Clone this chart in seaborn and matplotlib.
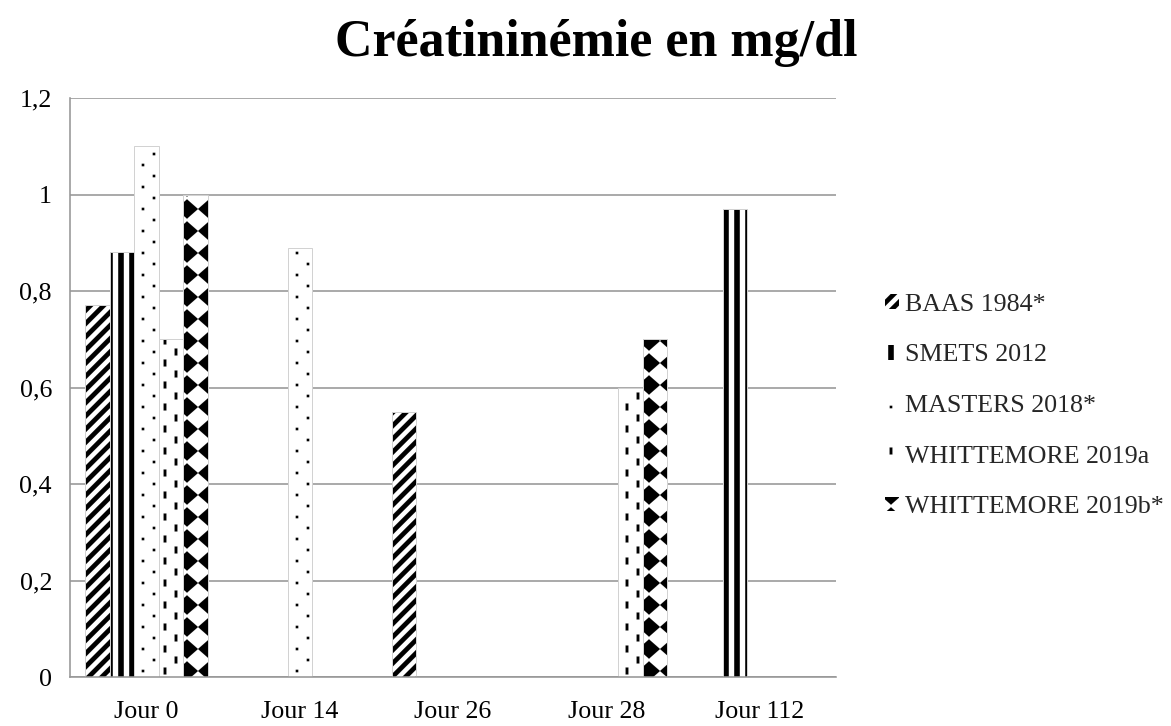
import numpy as np
import pandas as pd
import matplotlib
matplotlib.use("Agg")
import matplotlib.pyplot as plt
import matplotlib.hatch as mhatch
import matplotlib.patches as mpatches
from matplotlib.colors import to_rgba
from matplotlib.path import Path
import seaborn as sns

# ---------------- data ----------------
categories = ["Jour 0", "Jour 14", "Jour 26", "Jour 28", "Jour 112"]
series = ["BAAS 1984*", "SMETS 2012", "MASTERS 2018*", "WHITTEMORE 2019a", "WHITTEMORE 2019b*"]
baas = [0.77, None, 0.55, None, None]
smets = [0.88, None, None, None, 0.97]
masters = [1.10, 0.89, None, None, None]
whittemore_a = [0.70, None, None, 0.60, None]
whittemore_b = [1.00, None, None, 0.70, None]
y_ticks = [0, 0.2, 0.4, 0.6, 0.8, 1.0, 1.2]
y_tick_labels = ["0", "0,2", "0,4", "0,6", "0,8", "1", "1,2"]
title = "Créatininémie en mg/dl"

values = [baas, smets, masters, whittemore_a, whittemore_b]
rows = []
for s, vals in zip(series, values):
    for c, v in zip(categories, vals):
        if v is not None:
            rows.append({"jour": c, "serie": s, "valeur": v})
df = pd.DataFrame(rows)

# ---------------- custom fill patterns (hatch tiles) ----------------
def _rect(x0, y0, x1, y1):
    return [(x0, y0), (x1, y0), (x1, y1), (x0, y1)]


def _tile_shapes(ch):
    shapes = []
    if ch == "/":  # thick diagonal stripes
        n, d = 5, 0.05
        for k in range(-n - 1, n + 2):
            c = k / n
            shapes.append([(-0.2, -0.2 + c - d), (1.2, 1.2 + c - d),
                           (1.2, 1.2 + c + d), (-0.2, -0.2 + c + d)])
    elif ch == "|":  # thick vertical lines
        n, d = 6, 0.042
        for i in range(n + 1):
            x = i / n
            shapes.append(_rect(x - d, -0.1, x + d, 1.1))
    elif ch == ".":  # sparse staggered dots
        nr, nc, s = 6, 3, 0.019
        for r in range(nr + 1):
            y = r / nr
            shift = 0.5 / nc if r % 2 else 0.0
            for c in range(-1, nc + 1):
                x = c / nc + shift
                shapes.append(_rect(x - s, y - s, x + s, y + s))
    elif ch == "-":  # staggered vertical dashes
        ncol, w, L = 6, 0.021, 0.105
        for i in range(ncol + 1):
            x = i / ncol
            off = (1 / 6) if i % 2 else 0.0
            for j in range(-1, 4):
                y = j / 3 + off
                shapes.append(_rect(x - w, y - L / 2, x + w, y + L / 2))
    elif ch == "*":  # bow-tie / diamond triangles
        n = 3
        cw = 1 / n
        sh = 0.5 * cw
        for i in range(-2, n + 1):
            for j in range(-1, n + 1):
                x0, y0 = i * cw + sh, j * cw
                shapes.append([(x0, y0 + 0.06 * cw), (x0, y0 + 0.94 * cw),
                               (x0 + 0.5 * cw, y0 + 0.5 * cw)])
                shapes.append([(x0 + cw, y0 + 0.06 * cw), (x0 + cw, y0 + 0.94 * cw),
                               (x0 + 0.5 * cw, y0 + 0.5 * cw)])
    return shapes


class _TileHatch(mhatch.HatchPatternBase):
    def __init__(self, hatch, density):
        self.shapes = []
        for ch in dict.fromkeys(hatch):
            self.shapes.extend(_tile_shapes(ch))
        self.num_vertices = sum(len(s) + 1 for s in self.shapes)

    def set_vertices_and_codes(self, vertices, codes):
        i = 0
        for s in self.shapes:
            n = len(s)
            vertices[i:i + n] = s
            vertices[i + n] = s[0]
            codes[i] = Path.MOVETO
            codes[i + 1:i + n] = Path.LINETO
            codes[i + n] = Path.CLOSEPOLY
            i += n + 1


mhatch._hatch_types = [_TileHatch]
hatches = ["/", "|", ".", "-", "*"]

# ---------------- style ----------------
DPI = 66
PX = 72.0 / DPI  # points per pixel
sns.set_style("white")
plt.rcParams["font.family"] = ["Liberation Serif", "DejaVu Serif"]
plt.rcParams["hatch.linewidth"] = 0.1

fig = plt.figure(figsize=(1171 / DPI, 726 / DPI), dpi=DPI)
ax = fig.add_axes([70 / 1171, 1 - 677 / 726, (836 - 70) / 1171, (677 - 98) / 726])

sns.barplot(data=df, x="jour", y="valeur", hue="serie", order=categories,
            hue_order=series, palette={s: "white" for s in series},
            saturation=1, width=0.8, errorbar=None, legend=False, ax=ax)

for cont, h in zip(ax.containers, hatches):
    for bar in cont:
        bar.set_hatch(h)
        bar.set_edgecolor("#d2d2d2")
        bar.set_linewidth(1.0 * PX)
        if hasattr(bar, "set_hatchcolor"):
            bar.set_hatchcolor("black")
        else:
            bar._hatch_color = to_rgba("black")

grid_col = "#979797"
ax.set_axisbelow(True)
ax.yaxis.grid(True, color=grid_col, linewidth=1.6 * PX)
ax.xaxis.grid(False)
for side in ["top", "right"]:
    ax.spines[side].set_visible(False)
for side in ["left", "bottom"]:
    ax.spines[side].set_color(grid_col)
    ax.spines[side].set_linewidth(1.6 * PX)

ax.set_ylim(0, 1.2)
ax.set_yticks(y_ticks, labels=y_tick_labels)
ax.set_xlabel("")
ax.set_ylabel("")
fs = 26 * PX
ax.tick_params(axis="y", length=0, pad=18 * PX, labelsize=fs, labelcolor="black")
ax.tick_params(axis="x", length=0, pad=23.5 * PX, labelsize=fs, labelcolor="black")

fig.text(596 / 1171, 1 - 56 / 726, title, ha="center", va="baseline",
         fontsize=52 * PX, fontweight="bold", color="black")

handles = [mpatches.Patch(facecolor="white", edgecolor="black", linewidth=0,
                          hatch=h, label=s) for s, h in zip(series, hatches)]
fig.legend(handles=handles, loc="center left",
           bbox_to_anchor=(885 / 1171, 1 - 406 / 726), bbox_transform=fig.transFigure,
           frameon=False, fontsize=fs, borderpad=0, borderaxespad=0,
           handlelength=0.54, handleheight=0.5, handletextpad=0.23,
           labelspacing=1.1)

fig.savefig("out.png", dpi=DPI, facecolor="white")
